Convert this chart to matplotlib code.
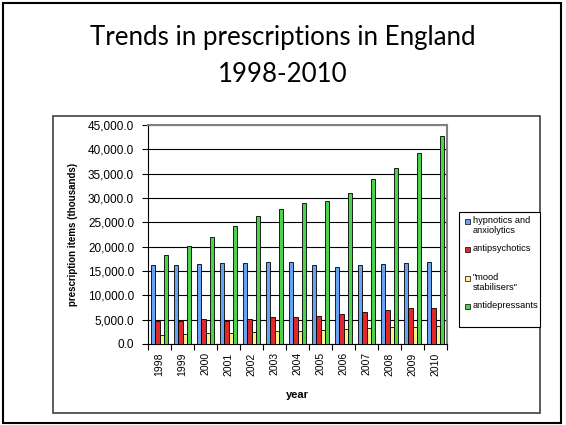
import matplotlib as ml
ml.use("Agg")
import matplotlib.pyplot as plt
from matplotlib.patches import Rectangle
from matplotlib.ticker import FuncFormatter
import numpy as np

################################################################################
# data (prescription items, thousands)
################################################################################
years = ['1998', '1999', '2000', '2001', '2002', '2003', '2004',
         '2005', '2006', '2007', '2008', '2009', '2010']
hypnotics = [16160, 16160, 16370, 16720, 16720, 16850, 16850,
             16230, 15890, 16230, 16370, 16720, 16850]
antipsychotics = [4640, 4780, 5120, 4780, 5120, 5460, 5620,
                  5730, 6070, 6620, 6960, 7300, 7430]
mood_stabilisers = [1840, 1980, 2180, 2180, 2390, 2590, 2680,
                    2800, 3000, 3200, 3410, 3550, 3680]
antidepressants = [18350, 20050, 21900, 24250, 26230, 27740, 28970,
                   29380, 30960, 33970, 36100, 39180, 42810]
labels = ['hypnotics and\nanxiolytics', 'antipsychotics',
          '"mood\nstabilisers"', 'antidepressants']
colors = ['#66A3F2', '#E3262A', '#FFF08A', '#4CD24C']

W, H = 566, 425

def px(x, y):
    # pixel position (from top-left) -> figure fraction
    return x / W, 1 - y / H

################################################################################
# figure
################################################################################
fig = plt.figure(figsize=(W / 100, H / 100), dpi=100)
plt.rcParams['font.family'] = ['Liberation Sans', 'DejaVu Sans']

# slide frame and chart frame
fig.patches.append(Rectangle(px(3, 423), 558 / W, 420 / H, transform=fig.transFigure,
                             fill=False, edgecolor='black', linewidth=1.5))
fig.patches.append(Rectangle(px(53, 413), 487 / W, 297 / H, transform=fig.transFigure,
                             fill=False, edgecolor='#404040', linewidth=1.2))

fig.text(0.5, 1 - 37 / H, 'Trends in prescriptions in England', ha='center', va='center',
         fontsize=18.6, family='Lato')
fig.text(0.5, 1 - 74 / H, '1998-2010', ha='center', va='center',
         fontsize=18.6, family='Lato')

l, t = px(148, 125)
r, b = px(447, 344)
ax = fig.add_axes([l, b, r - l, t - b])

x = np.arange(len(years))
width = 0.19
series = [hypnotics, antipsychotics, mood_stabilisers, antidepressants]
for i, (vals, c) in enumerate(zip(series, colors)):
    ax.bar(x + (i - 1.5) * width, vals, width, color=c, edgecolor='black',
           linewidth=0.6, zorder=3)

ax.set_xlim(-0.5, len(years) - 0.5)
ax.set_ylim(0, 45000)
ax.set_yticks(np.arange(0, 45001, 5000))
ax.yaxis.set_major_formatter(FuncFormatter(lambda v, p: '{:,.1f}'.format(v)))
ax.grid(axis='y', color='black', linewidth=0.8, zorder=0)

# category ticks sit between the groups
ax.set_xticks(np.arange(-0.5, len(years), 1.0))
ax.set_xticklabels([])
ax.set_xticks(x, minor=True)
ax.set_xticklabels(years, minor=True, rotation=90, fontsize=7.5)
ax.tick_params(axis='x', which='minor', length=0, pad=6)
ax.tick_params(axis='x', which='major', length=4, width=0.8, direction='out')
ax.tick_params(axis='y', length=4, width=0.8, direction='out', labelsize=8.5, pad=6)

for s in ['top', 'right']:
    ax.spines[s].set_color('#808080')
    ax.spines[s].set_linewidth(1.5)
for s in ['left', 'bottom']:
    ax.spines[s].set_linewidth(0.8)

ax.set_xlabel('year', fontsize=8, fontweight='bold', labelpad=10)
ax.set_ylabel('prescription items (thousands)', fontsize=7, fontweight='bold', labelpad=7)

# legend box
fig.patches.append(Rectangle(px(459, 327), 81 / W, 115 / H, transform=fig.transFigure,
                             facecolor='white', edgecolor='black', linewidth=0.8))
for yy, lab, c in zip([221, 249, 278, 306], labels, colors):
    fig.patches.append(Rectangle(px(465, yy + 2.5), 5 / W, 5 / H, transform=fig.transFigure,
                                 facecolor=c, edgecolor='black', linewidth=0.5))
    fig.text(*px(473, yy - 5), lab, ha='left', va='top', fontsize=6.7, linespacing=1.2)

plt.savefig('out.png', dpi=100)
